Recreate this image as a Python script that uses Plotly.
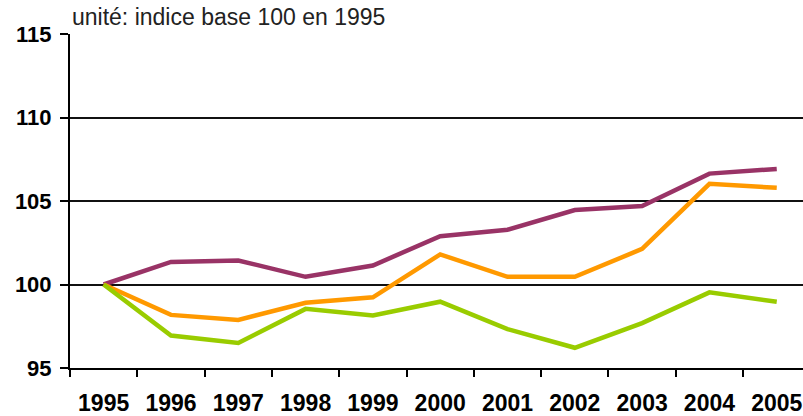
import plotly.graph_objects as go

# ── Index series, base 100 in 1995 ─────────────────────────────────────
years = ["1995", "1996", "1997", "1998", "1999", "2000",
         "2001", "2002", "2003", "2004", "2005"]

serie_violet = [100.0, 101.35, 101.44, 100.46, 101.14, 102.89,
                103.28, 104.46, 104.70, 106.64, 106.92]
serie_orange = [100.0, 98.18, 97.88, 98.91, 99.23, 101.80,
                100.46, 100.46, 102.13, 106.03, 105.79]
serie_verte = [100.0, 96.94, 96.50, 98.54, 98.14, 98.97,
               97.33, 96.21, 97.69, 99.53, 98.97]

y_ticks = [95, 100, 105, 110, 115]

fig = go.Figure()

for name, values, color in [
    ("Série 1", serie_violet, "#993366"),
    ("Série 2", serie_orange, "#FF9900"),
    ("Série 3", serie_verte, "#99CC00"),
]:
    fig.add_trace(go.Scatter(
        x=years, y=values, mode="lines", name=name,
        line=dict(color=color, width=4.5),
        showlegend=False,
    ))

# Subtitle above the plot area
fig.add_annotation(
    text="unité: indice base 100 en 1995",
    xref="paper", yref="paper", x=0, y=1,
    xanchor="left", yanchor="bottom", xshift=0, yshift=2,
    showarrow=False,
    font=dict(family="Liberation Sans, Arial", size=23, color="#222222"),
)

fig.update_layout(
    width=803, height=416,
    plot_bgcolor="white", paper_bgcolor="white",
    margin=dict(l=70, r=0, t=34, b=46, pad=0),
    font=dict(family="Liberation Sans, Arial", color="black"),
    xaxis=dict(
        type="category", range=[-0.5, 10.39],
        tickson="boundaries", ticks="outside", ticklen=7,
        tickwidth=2, tickcolor="black",
        ticklabelstandoff=13,
        showgrid=False, showline=True, linecolor="black", linewidth=2,
        tickfont=dict(size=23, color="black", weight="bold"),
        zeroline=False,
    ),
    yaxis=dict(
        range=[95, 115], tickvals=y_ticks,
        ticks="outside", ticklen=8, tickwidth=2, tickcolor="black",
        ticklabelstandoff=4,
        showgrid=True, gridcolor="#111111", gridwidth=2,
        showline=True, linecolor="black", linewidth=2,
        tickfont=dict(size=22, color="black", weight="bold"),
        zeroline=False,
    ),
)

# the page body has a default 8px margin; drop it so the figure sits at 0,0
fig.write_html(
    "out.html",
    config={"displayModeBar": False},
    post_script="document.body.style.margin='0';",
)
